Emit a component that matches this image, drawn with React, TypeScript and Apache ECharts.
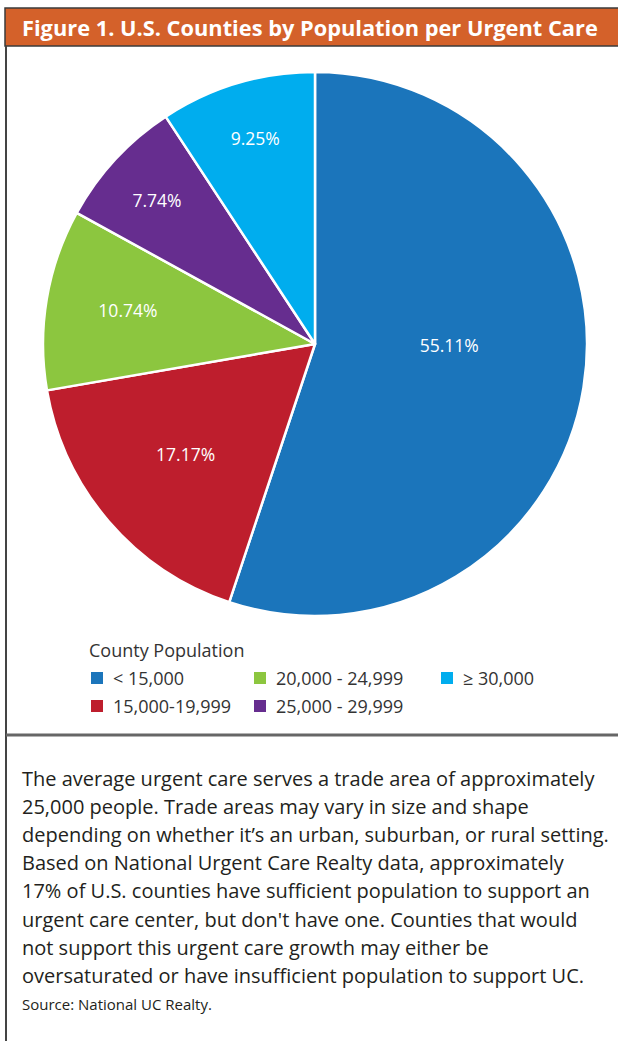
import React, { useEffect, useRef } from "react";
import * as echarts from "echarts";

const titleText = "Figure 1. U.S. Counties by Population per Urgent Care";
const legendTitle = "County Population";
const categories = ["< 15,000", "15,000-19,999", "20,000 - 24,999", "25,000 - 29,999", "≥ 30,000"];
const shares = [55.11, 17.17, 10.74, 7.74, 9.25];
const colors = ["#1b75bb", "#be1e2d", "#8cc63f", "#662d8f", "#00adee"];
const labelOffsets = [
  [-3, -21],
  [-24, 19],
  [-50, -11],
  [-56, -50],
  [-20, -73],
];
const legendColumns = [[0, 1], [2, 3], [4]];
const legendLefts = [89, 252, 439];
const paragraphLines = [
  "The average urgent care serves a trade area of approximately",
  "25,000 people. Trade areas may vary in size and shape",
  "depending on whether it’s an urban, suburban, or rural setting.",
  "Based on National Urgent Care Realty data, approximately",
  "17% of U.S. counties have sufficient population to support an",
  "urgent care center, but don't have one. Counties that would",
  "not support this urgent care growth may either be",
  "oversaturated or have insufficient population to support UC.",
];
const sourceText = "Source: National UC Realty.";

export default function App() {
  const ref = useRef<HTMLDivElement>(null);
  useEffect(() => {
    document.body.style.margin = "0";
    document.body.style.overflow = "hidden";
    if (!ref.current) return;
    const chart = echarts.init(ref.current, undefined, { renderer: "svg" });

    const bodyFont = "Open Sans";
    const lineY0 = 778;
    const lineStep = 28.2;
    const paraTexts = paragraphLines.map((t, i) => ({
      type: "text",
      x: 22,
      y: lineY0 + i * lineStep,
      style: {
        text: t,
        fill: "#231f20",
        fontSize: 20,
        fontFamily: bodyFont,
        verticalAlign: "middle",
        align: "left",
      },
    }));

    chart.setOption({
      animation: false,
      backgroundColor: "#ffffff",
      legend: legendColumns.map((col, i) => ({
        data: col.map((k) => categories[k]),
        orient: "vertical",
        left: legendLefts[i],
        top: 669,
        padding: 0,
        itemWidth: 14,
        itemHeight: 14,
        itemGap: 10,
        icon: "rect",
        selectedMode: false,
        textStyle: {
          fontFamily: "Open Sans",
          fontSize: 18,
          color: "#333333",
          lineHeight: 16,
          padding: [0, 0, 0, 4],
        },
      })),
      graphic: [
        {
          type: "rect",
          shape: { x: 5, y: 8, width: 620, height: 38 },
          style: { fill: "#d4612a", stroke: "#3b3b3b", lineWidth: 1.5 },
        },
        {
          type: "text",
          x: 22,
          y: 27,
          style: {
            text: titleText,
            fill: "#ffffff",
            fontSize: 21.8,
            fontWeight: "bold",
            fontFamily: "Open Sans",
            verticalAlign: "middle",
            align: "left",
          },
        },
        {
          type: "line",
          shape: { x1: 6, y1: 46, x2: 6, y2: 1041 },
          style: { stroke: "#444444", lineWidth: 2 },
        },
        {
          type: "line",
          shape: { x1: 6, y1: 735, x2: 618, y2: 735 },
          style: { stroke: "#666666", lineWidth: 3 },
        },
        {
          type: "text",
          x: 89,
          y: 650,
          style: {
            text: legendTitle,
            fill: "#333333",
            fontSize: 18,
            fontFamily: "Open Sans",
            verticalAlign: "middle",
            align: "left",
          },
        },
        ...paraTexts,
        {
          type: "text",
          x: 22,
          y: 1004,
          style: {
            text: sourceText,
            fill: "#231f20",
            fontSize: 15,
            fontFamily: bodyFont,
            verticalAlign: "middle",
            align: "left",
          },
        },
      ],
      series: [
        {
          type: "pie",
          center: [315, 344],
          radius: 272,
          startAngle: 90,
          clockwise: true,
          avoidLabelOverlap: false,
          emphasis: { disabled: true },
          itemStyle: { borderColor: "#ffffff", borderWidth: 2.5 },
          label: {
            show: true,
            position: "inside",
            color: "#ffffff",
            fontFamily: "Open Sans",
            fontSize: 17.5,
            formatter: (p: any) => `${Number(p.value).toFixed(2)}%`,
          },
          labelLine: { show: false },
          data: categories.map((name, i) => ({
            name,
            value: shares[i],
            itemStyle: { color: colors[i] },
            label: { offset: labelOffsets[i] },
          })),
        },
      ],
    });
    return () => chart.dispose();
  }, []);
  return <div ref={ref} style={{ width: 618, height: 1041 }} />;
}
